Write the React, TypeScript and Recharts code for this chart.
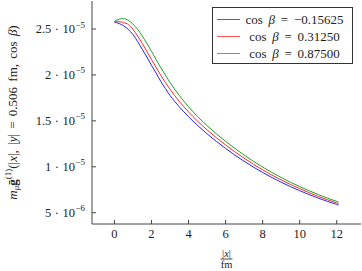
import { LineChart, Line, XAxis, YAxis, Legend, Label } from 'recharts';

// |x| in fm
const xValues = [0, 0.25, 0.5, 0.75, 1, 1.25, 1.5, 1.75, 2, 2.25, 2.5, 2.75, 3, 3.5, 4, 4.5, 5, 5.5, 6, 6.5, 7, 7.5, 8, 8.5, 9, 9.5, 10, 10.5, 11, 11.5, 12, 12.1];

// values in units of 1e-5
const blueValues = [2.575, 2.56, 2.535, 2.495, 2.44, 2.365, 2.28, 2.195, 2.105, 2.02, 1.93, 1.852, 1.777, 1.654, 1.545, 1.448, 1.359, 1.277, 1.2, 1.128, 1.06, 0.997, 0.938, 0.883, 0.832, 0.784, 0.74, 0.698, 0.659, 0.623, 0.59, 0.583];
const redValues = [2.578, 2.58, 2.57, 2.55, 2.497, 2.425, 2.344, 2.257, 2.168, 2.081, 1.997, 1.918, 1.845, 1.712, 1.598, 1.495, 1.402, 1.317, 1.238, 1.163, 1.094, 1.028, 0.967, 0.91, 0.857, 0.808, 0.762, 0.719, 0.678, 0.641, 0.606, 0.599];
const greenValues = [2.582, 2.607, 2.613, 2.594, 2.554, 2.497, 2.425, 2.344, 2.257, 2.168, 2.081, 1.997, 1.918, 1.777, 1.654, 1.545, 1.448, 1.359, 1.277, 1.2, 1.128, 1.06, 0.997, 0.938, 0.883, 0.832, 0.784, 0.74, 0.698, 0.659, 0.623, 0.616];

const cosBeta = ['−0.15625', '0.31250', '0.87500'];
const xTicks = [0, 2, 4, 6, 8, 10, 12];
const yTicks = [5e-6, 1e-5, 1.5e-5, 2e-5, 2.5e-5];

const COLORS = ['#2424ff', '#ff2a2a', '#22a022'];
const AXIS = '#444';
const FONT = "'Liberation Serif', serif";

const data = xValues.map((x, i) => ({
  x,
  b: blueValues[i] * 1e-5,
  r: redValues[i] * 1e-5,
  g: greenValues[i] * 1e-5,
}));

function sciParts(v: number) {
  const e = Math.floor(Math.log10(v) + 1e-9);
  const m = Math.round((v / Math.pow(10, e)) * 10) / 10;
  return { m, e };
}

const BottomTick = ({ x, y, payload }: any) => (
  <g>
    <line x1={x} x2={x} y1={y} y2={y - 4} stroke={AXIS} />
    <text x={x} y={y + 14} textAnchor="middle" fontSize={12.5} fontFamily={FONT} fill="#222">
      {payload.value}
    </text>
  </g>
);

const TopTick = ({ x, y }: any) => <line x1={x} x2={x} y1={y} y2={y + 4} stroke={AXIS} />;

const LeftTick = ({ x, y, payload }: any) => {
  const { m, e } = sciParts(payload.value);
  return (
    <g>
      <line x1={x} x2={x + 4} y1={y} y2={y} stroke={AXIS} />
      <text x={x - 7} y={y + 4} textAnchor="end" fontSize={12.5} fontFamily={FONT} fill="#222">
        {m}
        <tspan dx={3.5}>·</tspan>
        <tspan dx={3.5}>10</tspan>
        <tspan fontSize={9} dx={0.5} dy={-5.5}>{'−' + Math.abs(e)}</tspan>
      </text>
    </g>
  );
};

const RightTick = ({ x, y }: any) => <line x1={x} x2={x - 4} y1={y} y2={y} stroke={AXIS} />;

const YTitle = ({ viewBox }: any) => {
  const cx = viewBox.x + 14;
  const cy = viewBox.y + viewBox.height / 2;
  return (
    <text
      x={cx}
      y={cy}
      transform={`rotate(-90, ${cx}, ${cy})`}
      textAnchor="middle"
      dominantBaseline="middle"
      fontSize={13}
      fontFamily={FONT}
      fill="#222"
      wordSpacing={2}
    >
      <tspan fontStyle="italic">m</tspan>
      <tspan fontStyle="italic" fontSize={9} dy={3}>μ</tspan>
      <tspan dy={-3} fontWeight="bold">ḡ</tspan>
      <tspan fontSize={9} dy={-5}>(1)</tspan>
      <tspan dy={5}>(|</tspan>
      <tspan fontStyle="italic">x</tspan>
      <tspan>|, |</tspan>
      <tspan fontStyle="italic">y</tspan>
      <tspan>| = 0.506 fm, cos </tspan>
      <tspan fontStyle="italic">β</tspan>
      <tspan>)</tspan>
    </text>
  );
};

const XTitle = ({ viewBox }: any) => {
  const cx = viewBox.x + viewBox.width / 2;
  const top = viewBox.y;
  return (
    <g fontFamily={FONT} fill="#222" fontSize={10.5}>
      <text x={cx} y={top + 32.5} textAnchor="middle">
        |<tspan fontStyle="italic">x</tspan>|
      </text>
      <line x1={cx - 6} x2={cx + 6} y1={top + 35} y2={top + 35} stroke="#222" strokeWidth={0.8} />
      <text x={cx} y={top + 43.5} textAnchor="middle">fm</text>
    </g>
  );
};

const LegendBox = () => (
  <div
    style={{
      width: 141,
      height: 57,
      border: '1px solid #333',
      background: '#fff',
      boxSizing: 'border-box',
      paddingTop: 3,
      fontFamily: FONT,
      fontSize: 13,
      color: '#222',
    }}
  >
    {cosBeta.map((c, i) => (
      <div key={i} style={{ display: 'flex', alignItems: 'center', height: 17 }}>
        <div style={{ width: 23, height: 0, borderTop: `1.2px solid ${COLORS[i]}`, marginLeft: 4, opacity: 0.8 }} />
        <div style={{ flex: 1, textAlign: 'center', whiteSpace: 'nowrap', marginRight: 3, wordSpacing: 2.5 }}>
          cos <i>β</i> = {c}
        </div>
      </div>
    ))}
  </div>
);

export default function App() {
  return (
    <div style={{ position: 'absolute', left: 0, top: 0, width: 362, height: 271, background: '#fff' }}>
      <LineChart width={362} height={271} data={data} margin={{ top: 1, right: 1, bottom: 0, left: 0 }}>
        <XAxis
          dataKey="x"
          type="number"
          domain={[-1.21, 13.31]}
          ticks={xTicks}
          height={47}
          stroke={AXIS}
          tickLine={false}
          tickSize={0}
          tickMargin={0}
          tick={BottomTick}
          interval={0}
        >
          <Label content={XTitle} />
        </XAxis>
        <XAxis
          xAxisId="top"
          dataKey="x"
          type="number"
          orientation="top"
          domain={[-1.21, 13.31]}
          ticks={xTicks}
          height={0}
          stroke={AXIS}
          tickLine={false}
          tickSize={0}
          tickMargin={0}
          tick={TopTick}
          interval={0}
        />
        <YAxis
          type="number"
          domain={[3.77e-6, 2.805e-5]}
          ticks={yTicks}
          width={92}
          stroke={AXIS}
          tickLine={false}
          tickSize={0}
          tickMargin={0}
          tick={LeftTick}
          interval={0}
        >
          <Label content={YTitle} />
        </YAxis>
        <YAxis
          yAxisId="right"
          orientation="right"
          type="number"
          domain={[3.77e-6, 2.805e-5]}
          ticks={yTicks}
          width={0}
          stroke={AXIS}
          tickLine={false}
          tickSize={0}
          tickMargin={0}
          tick={RightTick}
          interval={0}
        />
        <Line type="monotone" dataKey="b" stroke={COLORS[0]} strokeWidth={1} dot={false} isAnimationActive={false} />
        <Line type="monotone" dataKey="r" stroke={COLORS[1]} strokeWidth={1} dot={false} isAnimationActive={false} />
        <Line type="monotone" dataKey="g" stroke={COLORS[2]} strokeWidth={1} dot={false} isAnimationActive={false} />
        <Legend
          layout="vertical"
          align="center"
          verticalAlign="middle"
          content={LegendBox}
          wrapperStyle={{ position: 'absolute', left: 212, top: 7, width: 141, height: 57 }}
        />
      </LineChart>
    </div>
  );
}
